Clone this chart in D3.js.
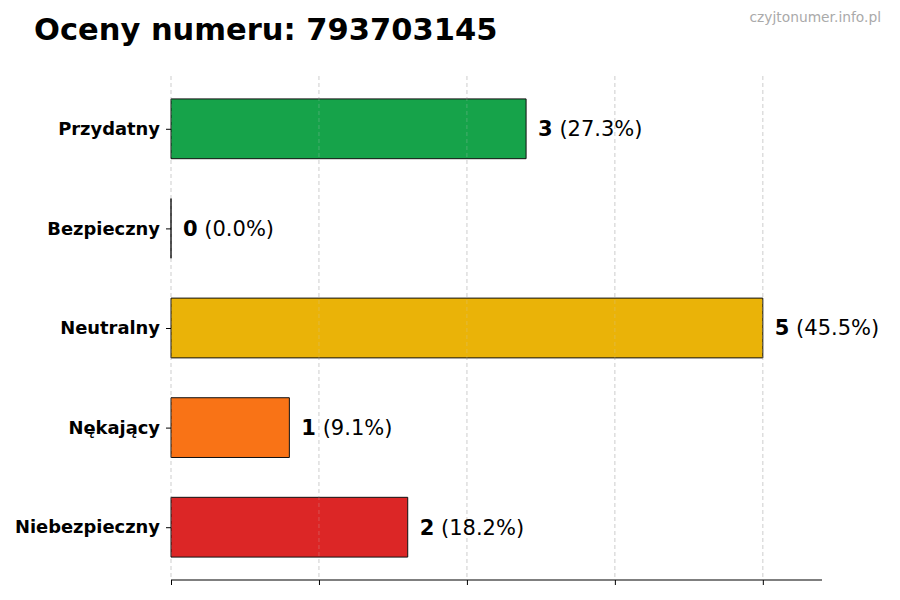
<!DOCTYPE html>
<html><head><meta charset="utf-8">
<script src="https://cdn.jsdelivr.net/npm/d3@7"></script>
<style>body{margin:0;background:#fff;} svg{display:block;font-family:"DejaVu Sans",sans-serif;}</style>
</head><body>
<svg id="c" width="900" height="600"></svg>
<script>
const categories = ["Przydatny","Bezpieczny","Neutralny","Nękający","Niebezpieczny"];
const values = [3,0,5,1,2];
const percents = ["27.3%","0.0%","45.5%","9.1%","18.2%"];
const colors = ["#16a34a","#16a34a","#eab308","#f97316","#dc2626"];
const xTicks = [0,1.25,2.5,3.75,5];
const title = "Oceny numeru: 793703145";
const watermark = "czyjtonumer.info.pl";

const svg = d3.select("#c");
const L = 171, R = 822, T = 76, B = 580;
const x = d3.scaleLinear().domain([0,5.5]).range([L,R]);
const y = d3.scaleLinear().domain([-0.53,4.53]).range([T,B]);
const barH = y(0.6) - y(0);

function grid(op){
  svg.append("g").selectAll("line").data(xTicks).join("line")
    .attr("x1",d=>x(d)).attr("x2",d=>x(d)).attr("y1",T).attr("y2",B)
    .attr("stroke","#cccccc").attr("stroke-opacity",op).attr("stroke-width",0.8).attr("stroke-dasharray","4,3");
}
grid(1);

// bars (as paths so zero-width bars still show their edge)
svg.append("g").selectAll("path").data(values).join("path")
  .attr("d",(d,i)=>{const y0=y(i)-barH/2, x0=x(0), x1=x(d);
    return `M${x0},${y0}H${x1}V${y0+barH}H${x0}Z`;})
  .attr("fill",(d,i)=>colors[i])
  .attr("stroke","#111").attr("stroke-width",1);
grid(0.35);

// value labels
const lab = svg.append("g").selectAll("text").data(values).join("text")
  .attr("x",d=>x(d)+12).attr("y",(d,i)=>y(i)).attr("dy","0.35em")
  .attr("font-size","21px").attr("fill","#000");
lab.append("tspan").attr("font-weight","bold").text(d=>d);
lab.append("tspan").text((d,i)=>" ("+percents[i]+")");

// x axis
const xa = svg.append("g").attr("transform",`translate(0,${B})`)
  .call(d3.axisBottom(x).tickValues(xTicks).tickFormat("").tickSize(5).tickSizeOuter(0));
xa.select(".domain").attr("stroke","#000").attr("stroke-width",1.2).attr("d",`M${L},0H${R}`);
xa.selectAll(".tick line").attr("stroke","#000").attr("stroke-width",1);

// y axis
const ya = svg.append("g").attr("transform",`translate(${L},0)`)
  .call(d3.axisLeft(y).tickValues(d3.range(categories.length)).tickFormat(i=>categories[i]).tickSize(5).tickPadding(6));
ya.select(".domain").remove();
ya.selectAll(".tick line").attr("stroke","#000");
ya.selectAll(".tick text").attr("font-size","17.9px").attr("font-weight","bold")
  .attr("font-family","DejaVu Sans").attr("fill","#000");

svg.append("text").attr("x",34).attr("y",40).attr("font-size","30.5px").attr("font-weight","bold")
  .attr("fill","#000").text(title);
svg.append("text").attr("x",881).attr("y",22).attr("text-anchor","end").attr("font-size","13.8px")
  .attr("fill","#aaaaaa").text(watermark);
</script>
</body></html>
